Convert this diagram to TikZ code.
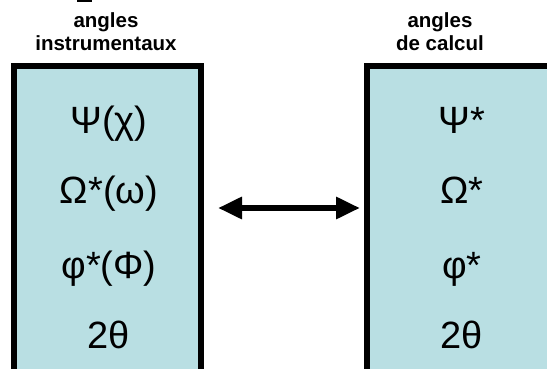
\documentclass[tikz,border=0pt]{standalone}
\usepackage{fontspec}
\setmainfont{Liberation Sans}
\usetikzlibrary{arrows.meta}
\definecolor{boxfill}{RGB}{185,223,227}
\begin{document}
\begin{tikzpicture}[x=1pt,y=-1pt,
  anglebox/.style={draw=black,line width=6pt,fill=boxfill},
  header/.style={font=\fontsize{20.5}{23}\selectfont\bfseries,align=center,inner sep=0pt},
  sym/.style={font=\fontsize{38}{42}\selectfont,inner sep=0pt,anchor=base},
  link/.style={line width=6.5pt,{Triangle[length=24pt,width=21pt]}-{Triangle[length=24pt,width=21pt]}}]
\useasboundingbox (0,0) rectangle (547,369);
\clip (0,0) rectangle (547,369);
\fill[white] (0,0) rectangle (547,369);
\fill[black] (77,0) rectangle (92,2);
\draw[anglebox] (14,66) rectangle (201,380);
\draw[anglebox] (367,66) rectangle (560,380);
\node[header] (hl) at (106,32) {angles\\instrumentaux};
\node[header] (hr) at (440,32) {angles\\de calcul};
\node[sym] (l1) at (109,133) {Ψ(χ)};
\node[sym] (l2) at (109,203) {Ω*(ω)};
\node[sym] (l3) at (109,278) {φ*(Φ)};
\node[sym] (l4) at (109,348) {2θ};
\node[sym] (r1) at (462,133) {Ψ*};
\node[sym] (r2) at (462,203) {Ω*};
\node[sym] (r3) at (462,278) {φ*};
\node[sym] (r4) at (462,348) {2θ};
\coordinate (al) at (218,208);
\coordinate (ar) at (360,208);
\draw[link] (al) -- (ar);
\end{tikzpicture}
\end{document}
